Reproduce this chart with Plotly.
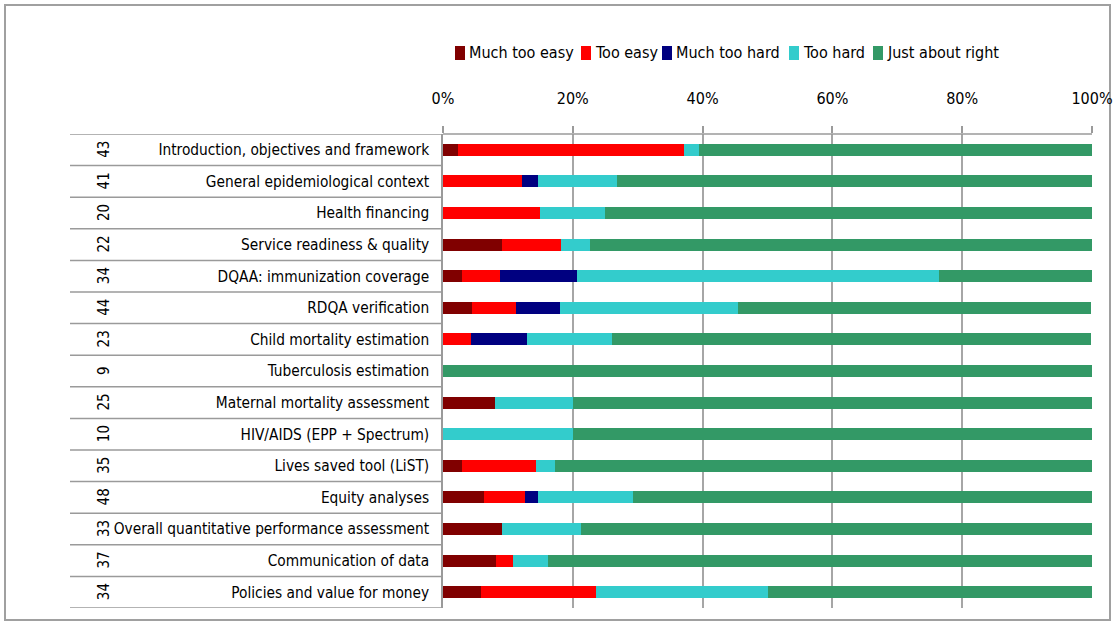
import plotly.graph_objects as go

categories = [
    "Introduction, objectives and framework",
    "General epidemiological context",
    "Health financing",
    "Service readiness & quality",
    "DQAA: immunization coverage",
    "RDQA verification",
    "Child mortality estimation",
    "Tuberculosis estimation",
    "Maternal mortality assessment",
    "HIV/AIDS (EPP + Spectrum)",
    "Lives saved tool (LiST)",
    "Equity analyses",
    "Overall quantitative performance assessment",
    "Communication of data",
    "Policies and value for money",
]
n_responses = [43, 41, 20, 22, 34, 44, 23, 9, 25, 10, 35, 48, 33, 37, 34]

much_too_easy = [2.3, 0.0, 0.0, 9.1, 2.9, 4.5, 0.0, 0.0, 8.0, 0.0, 2.9, 6.3, 9.1, 8.1, 5.9]
too_easy = [34.9, 12.2, 15.0, 9.1, 5.9, 6.8, 4.3, 0.0, 0.0, 0.0, 11.4, 6.3, 0.0, 2.7, 17.6]
much_too_hard = [0.0, 2.4, 0.0, 0.0, 11.8, 6.8, 8.7, 0.0, 0.0, 0.0, 0.0, 2.1, 0.0, 0.0, 0.0]
too_hard = [2.3, 12.2, 10.0, 4.5, 55.9, 27.3, 13.0, 0.0, 12.0, 20.0, 2.9, 14.6, 12.1, 5.4, 26.5]
just_about_right = [60.5, 73.2, 75.0, 77.3, 23.5, 54.5, 73.9, 100.0, 80.0, 80.0, 82.9, 70.8, 78.8, 83.8, 50.0]

series_names = ["Much too easy", "Too easy", "Much too hard", "Too hard", "Just about right"]
series_values = [much_too_easy, too_easy, much_too_hard, too_hard, just_about_right]
series_colors = ["#800000", "#FF0000", "#000080", "#33CCCC", "#339966"]

FONT = "DejaVu Sans Condensed, sans-serif"
idx = list(range(len(categories)))

fig = go.Figure()
for name, vals, color in zip(series_names, series_values, series_colors):
    fig.add_trace(go.Bar(
        y=idx, x=vals, name=name, orientation="h",
        marker=dict(color=color, line=dict(width=0)),
        width=0.38, showlegend=False,
    ))

L, R, T, B = 443, 26, 134, 18
W, H = 1118, 626
pw, ph = W - L - R, H - T - B

def px_x(p):
    return (p - L) / pw

def px_y(p):
    return (H - B - p) / ph

shapes = []
annotations = []
# outer border
shapes.append(dict(type="rect", xref="paper", yref="paper",
                   x0=px_x(5), x1=px_x(1110), y0=px_y(620), y1=px_y(5),
                   line=dict(color="#a0a0a0", width=2), layer="below"))
# category separators
for k in range(len(categories) + 1):
    yy = k - 0.5
    shapes.append(dict(type="line", xref="paper", yref="y",
                       x0=px_x(70), x1=0, y0=yy, y1=yy,
                       line=dict(color="#9a9a9a", width=1.5)))
# top axis line across plot
shapes.append(dict(type="line", xref="paper", yref="paper",
                   x0=0, x1=1, y0=1, y1=1,
                   line=dict(color="#9a9a9a", width=1.5)))

# manual legend
legend_x = [455, 581, 662, 789, 873]
for name, color, lx in zip(series_names, series_colors, legend_x):
    shapes.append(dict(type="rect", xref="paper", yref="paper",
                       x0=px_x(lx), x1=px_x(lx + 10), y0=px_y(60), y1=px_y(46),
                       fillcolor=color, line=dict(width=0)))
    annotations.append(dict(xref="paper", yref="paper", x=px_x(lx + 12), y=px_y(53),
                            xanchor="left", yanchor="middle", text=name, showarrow=False,
                            font=dict(family=FONT, size=16, color="#000000")))

for k, n in enumerate(n_responses):
    annotations.append(dict(xref="paper", yref="y", x=px_x(93), y=k,
                            text=str(n), showarrow=False, textangle=-90,
                            font=dict(family=FONT, size=15, color="#000000")))

fig.update_layout(
    width=W, height=H,
    margin=dict(l=L, r=R, t=T, b=B, autoexpand=False),
    barmode="stack",
    plot_bgcolor="white", paper_bgcolor="white",
    font=dict(family=FONT, size=16, color="#000000"),
    showlegend=False,
    shapes=shapes,
    annotations=annotations,
)
fig.update_xaxes(
    side="top", range=[0, 100], tickvals=[0, 20, 40, 60, 80, 100],
    ticktext=["0%", "20%", "40%", "60%", "80%", "100%"],
    showgrid=True, gridcolor="#a6a6a6", gridwidth=1.5,
    ticks="outside", ticklen=7, tickcolor="#9a9a9a", tickwidth=1.5,
    showline=False, zeroline=False, ticklabelstandoff=16, automargin=False,
    tickfont=dict(family=FONT, size=16),
)
fig.update_yaxes(
    range=[len(categories) - 0.5, -0.5], tickvals=idx, ticktext=categories,
    showgrid=False, zeroline=False, showline=True, linecolor="#9a9a9a", linewidth=1.5,
    ticks="", ticklabelstandoff=9, automargin=False,
    tickfont=dict(family=FONT, size=15.3),
)

fig.write_html("out.html", config={"displayModeBar": False},
               post_script="document.body.style.margin='0';document.body.style.padding='0';")
